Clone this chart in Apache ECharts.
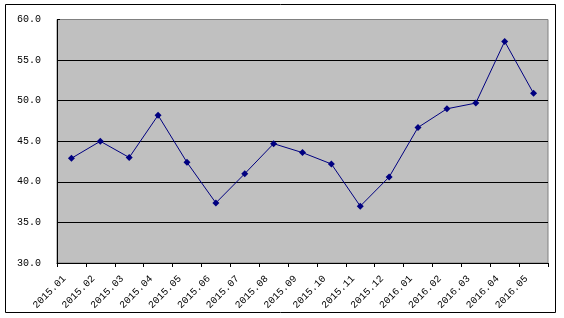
<!DOCTYPE html>
<html>
<head>
<meta charset="utf-8">
<script src="https://cdn.jsdelivr.net/npm/echarts@6/dist/echarts.min.js"></script>
<style>
html,body{margin:0;padding:0;background:#fff;}
#chart{width:564px;height:318px;}
</style>
</head>
<body>
<div id="chart"></div>
<script>
var categories = ['2015.01','2015.02','2015.03','2015.04','2015.05','2015.06','2015.07','2015.08','2015.09','2015.10','2015.11','2015.12','2016.01','2016.02','2016.03','2016.04','2016.05'];
var values = [42.9, 45.0, 43.0, 48.2, 42.4, 37.4, 41.0, 44.7, 43.6, 42.2, 37.0, 40.6, 46.7, 49.0, 49.7, 57.3, 50.9];
var yMin = 30, yMax = 60, yStep = 5;

var chart = echarts.init(document.getElementById('chart'));
var font = '"Liberation Mono", "DejaVu Sans Mono", monospace';
chart.setOption({
  animation: false,
  backgroundColor: '#ffffff',
  graphic: [{
    type: 'rect',
    shape: {x: 5.5, y: 4.5, width: 550, height: 308},
    style: {fill: 'none', stroke: '#000', lineWidth: 1},
    silent: true
  }],
  grid: {
    left: 57, right: 16, top: 19.5, bottom: 55,
    show: true, backgroundColor: '#c0c0c0', borderColor: '#808080', borderWidth: 1
  },
  xAxis: {
    type: 'category',
    data: categories,
    boundaryGap: true,
    axisLine: {lineStyle: {color: '#000', width: 1}},
    axisTick: {show: true, interval: 0, length: 4, lineStyle: {color: '#000'}},
    axisLabel: {interval: 0, rotate: 45, margin: 7, padding: [0, 10, 0, 0], color: '#000', fontFamily: font, fontSize: 10}
  },
  yAxis: {
    type: 'value',
    min: yMin, max: yMax, interval: yStep,
    axisLine: {show: true, lineStyle: {color: '#000', width: 1}},
    axisTick: {show: true, inside: true, length: 3, lineStyle: {color: '#000'}},
    splitLine: {show: true, lineStyle: {color: ['#000','#000','#000','#000','#000','#000','#808080'], width: 1}},
    axisLabel: {margin: 16, color: '#000', fontFamily: font, fontSize: 10,
      formatter: function (v) { return v.toFixed(1); }}
  },
  series: [{
    type: 'line',
    data: values,
    symbol: 'diamond',
    symbolSize: 7,
    itemStyle: {color: '#000080'},
    lineStyle: {color: '#000080', width: 1}
  }]
});
</script>
</body>
</html>
